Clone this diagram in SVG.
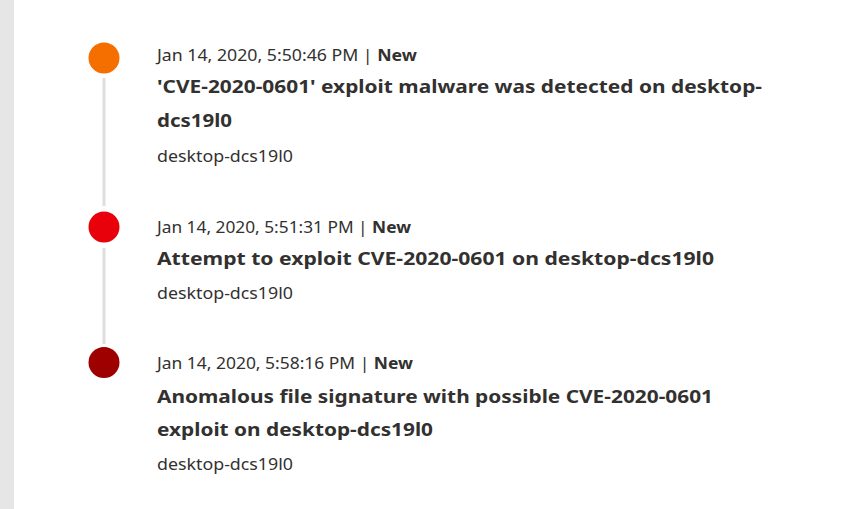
<svg xmlns="http://www.w3.org/2000/svg" width="851" height="509" viewBox="0 0 851 509">
<style>
text{font-family:"Noto Sans","Open Sans","Liberation Sans",sans-serif;fill:#323130}
.d{font-size:15.5px}
.t{font-size:18px;font-weight:bold}
.h{font-size:15.5px}
.b{font-weight:bold}
.ln{stroke:#dedede;stroke-width:3}
</style>
<rect x="0" y="0" width="851" height="509" fill="#ffffff"/>
<rect x="0" y="0" width="14" height="509" fill="#e6e6e6"/>
<g id="connectors">
<line class="ln" x1="104" y1="78" x2="104" y2="206"/>
<line class="ln" x1="104" y1="248" x2="104" y2="344"/>
</g>
<g id="event1">
<circle cx="104" cy="58" r="15.5" fill="#f56e00"/>
<text class="d" x="157" y="61" textLength="260" lengthAdjust="spacingAndGlyphs">Jan 14, 2020, 5:50:46 PM | <tspan class="b">New</tspan></text>
<text class="t" x="157" y="92.5" textLength="605" lengthAdjust="spacingAndGlyphs">'CVE-2020-0601' exploit malware was detected on desktop-</text>
<text class="t" x="157" y="126.5" textLength="75" lengthAdjust="spacingAndGlyphs">dcs19l0</text>
<text class="h" x="157" y="161.5" textLength="136" lengthAdjust="spacingAndGlyphs">desktop-dcs19l0</text>
</g>
<g id="event2">
<circle cx="104" cy="227" r="15.5" fill="#e8000a"/>
<text class="d" x="157" y="233" textLength="254" lengthAdjust="spacingAndGlyphs">Jan 14, 2020, 5:51:31 PM | <tspan class="b">New</tspan></text>
<text class="t" x="157" y="265" textLength="557" lengthAdjust="spacingAndGlyphs">Attempt to exploit CVE-2020-0601 on desktop-dcs19l0</text>
<text class="h" x="157" y="299" textLength="136" lengthAdjust="spacingAndGlyphs">desktop-dcs19l0</text>
</g>
<g id="event3">
<circle cx="104" cy="362.5" r="15.5" fill="#9e0000"/>
<text class="d" x="157" y="369" textLength="256" lengthAdjust="spacingAndGlyphs">Jan 14, 2020, 5:58:16 PM | <tspan class="b">New</tspan></text>
<text class="t" x="157" y="402.5" textLength="556" lengthAdjust="spacingAndGlyphs">Anomalous file signature with possible CVE-2020-0601</text>
<text class="t" x="157" y="436" textLength="276" lengthAdjust="spacingAndGlyphs">exploit on desktop-dcs19l0</text>
<text class="h" x="157" y="470" textLength="136" lengthAdjust="spacingAndGlyphs">desktop-dcs19l0</text>
</g>
</svg>
